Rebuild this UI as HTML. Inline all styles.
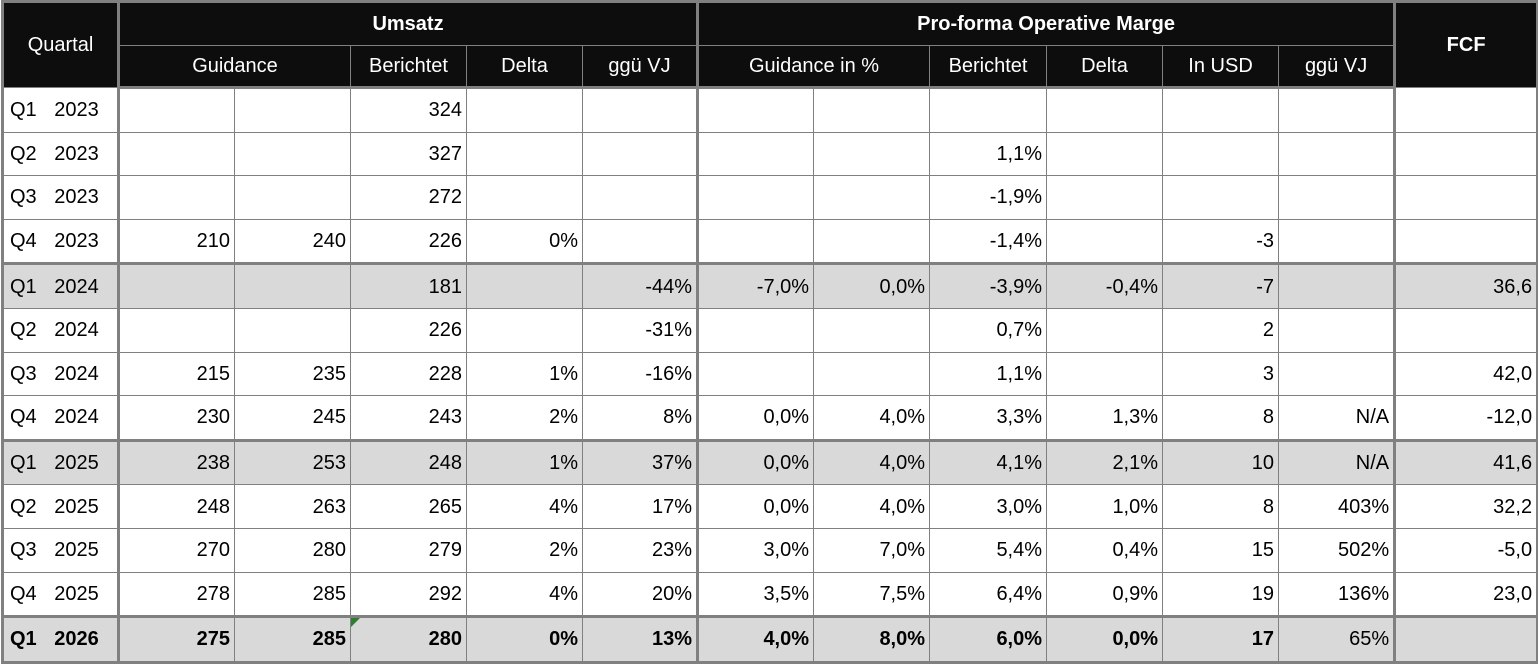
<!DOCTYPE html>
<html><head><meta charset="utf-8"><style>
html,body{margin:0;padding:0;background:#fff;overflow:hidden;}
table{border-collapse:collapse;table-layout:fixed;width:1535px;margin-left:1px;font-family:"Liberation Sans",Arial,sans-serif;font-size:20px;color:#000;}
td,th{border:1px solid #808080;padding:0 4px;overflow:hidden;white-space:nowrap;}
th{background:#0d0d0d;color:#fff;font-weight:normal;text-align:center;}
th.b{font-weight:bold;}
td{text-align:right;height:42.6px;padding-top:0;padding-bottom:0;line-height:20px;}
td.q{text-align:left;padding-left:6px;word-spacing:12px;}
tr.g td{background:#d9d9d9;}
tr.tk td{border-top:3px solid #808080;}
tr.bold td{font-weight:bold;}
.L{border-left:3px solid #808080 !important;}
.R{border-right:3px solid #808080 !important;}
tr.h1 th{height:42px;border-top:3px solid #808080;}
tr.h2 th{height:40px;border-bottom:3px solid #808080;}
tr.last td{border-bottom:3px solid #808080;}
.tri{position:relative;}
.tri:before{content:"";position:absolute;left:0;top:0;border-top:9px solid #2e7d32;border-right:9px solid transparent;}
</style></head><body>
<table>
<colgroup><col style="width:116px"><col style="width:116px"><col style="width:116px"><col style="width:116px"><col style="width:116px"><col style="width:115px"><col style="width:116px"><col style="width:116px"><col style="width:117px"><col style="width:116px"><col style="width:116px"><col style="width:116px"><col style="width:143px"></colgroup>
<tr class="h1"><th rowspan="2" class="L R">Quartal</th><th colspan="5" class="b R">Umsatz</th><th colspan="6" class="b R">Pro-forma Operative Marge</th><th rowspan="2" class="b R">FCF</th></tr>
<tr class="h2"><th colspan="2">Guidance</th><th>Berichtet</th><th>Delta</th><th class="R">ggü VJ</th><th colspan="2">Guidance in %</th><th>Berichtet</th><th>Delta</th><th>In USD</th><th class="R">ggü VJ</th></tr>
<tr><td class="q L R">Q1 2023</td><td></td><td></td><td>324</td><td></td><td class="R"></td><td></td><td></td><td></td><td></td><td></td><td class="R"></td><td class="R"></td></tr>
<tr><td class="q L R">Q2 2023</td><td></td><td></td><td>327</td><td></td><td class="R"></td><td></td><td></td><td>1,1%</td><td></td><td></td><td class="R"></td><td class="R"></td></tr>
<tr><td class="q L R">Q3 2023</td><td></td><td></td><td>272</td><td></td><td class="R"></td><td></td><td></td><td>-1,9%</td><td></td><td></td><td class="R"></td><td class="R"></td></tr>
<tr><td class="q L R">Q4 2023</td><td>210</td><td>240</td><td>226</td><td>0%</td><td class="R"></td><td></td><td></td><td>-1,4%</td><td></td><td>-3</td><td class="R"></td><td class="R"></td></tr>
<tr class="g tk"><td class="q L R">Q1 2024</td><td></td><td></td><td>181</td><td></td><td class="R">-44%</td><td>-7,0%</td><td>0,0%</td><td>-3,9%</td><td>-0,4%</td><td>-7</td><td class="R"></td><td class="R">36,6</td></tr>
<tr><td class="q L R">Q2 2024</td><td></td><td></td><td>226</td><td></td><td class="R">-31%</td><td></td><td></td><td>0,7%</td><td></td><td>2</td><td class="R"></td><td class="R"></td></tr>
<tr><td class="q L R">Q3 2024</td><td>215</td><td>235</td><td>228</td><td>1%</td><td class="R">-16%</td><td></td><td></td><td>1,1%</td><td></td><td>3</td><td class="R"></td><td class="R">42,0</td></tr>
<tr><td class="q L R">Q4 2024</td><td>230</td><td>245</td><td>243</td><td>2%</td><td class="R">8%</td><td>0,0%</td><td>4,0%</td><td>3,3%</td><td>1,3%</td><td>8</td><td class="R">N/A</td><td class="R">-12,0</td></tr>
<tr class="g tk"><td class="q L R">Q1 2025</td><td>238</td><td>253</td><td>248</td><td>1%</td><td class="R">37%</td><td>0,0%</td><td>4,0%</td><td>4,1%</td><td>2,1%</td><td>10</td><td class="R">N/A</td><td class="R">41,6</td></tr>
<tr><td class="q L R">Q2 2025</td><td>248</td><td>263</td><td>265</td><td>4%</td><td class="R">17%</td><td>0,0%</td><td>4,0%</td><td>3,0%</td><td>1,0%</td><td>8</td><td class="R">403%</td><td class="R">32,2</td></tr>
<tr><td class="q L R">Q3 2025</td><td>270</td><td>280</td><td>279</td><td>2%</td><td class="R">23%</td><td>3,0%</td><td>7,0%</td><td>5,4%</td><td>0,4%</td><td>15</td><td class="R">502%</td><td class="R">-5,0</td></tr>
<tr><td class="q L R">Q4 2025</td><td>278</td><td>285</td><td>292</td><td>4%</td><td class="R">20%</td><td>3,5%</td><td>7,5%</td><td>6,4%</td><td>0,9%</td><td>19</td><td class="R">136%</td><td class="R">23,0</td></tr>
<tr class="g tk bold last"><td class="q L R">Q1 2026</td><td>275</td><td>285</td><td class="tri">280</td><td>0%</td><td class="R">13%</td><td>4,0%</td><td>8,0%</td><td>6,0%</td><td>0,0%</td><td>17</td><td class="R" style="font-weight:normal">65%</td><td class="R"></td></tr>
</table>
</body></html>
